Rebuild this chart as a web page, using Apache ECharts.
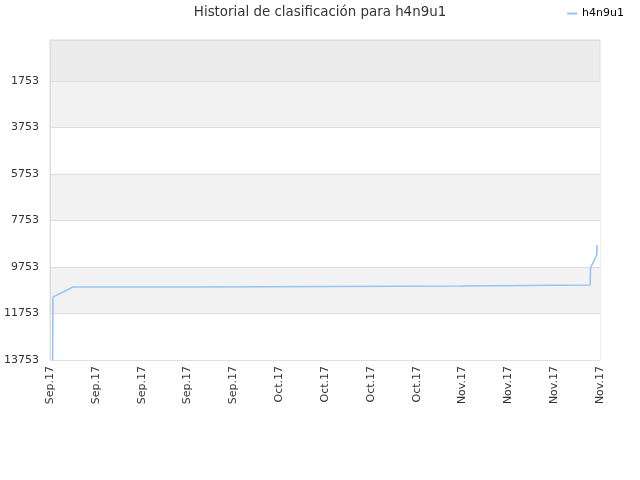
<!DOCTYPE html>
<html>
<head>
<meta charset="utf-8">
<script src="https://cdn.jsdelivr.net/npm/echarts@6/dist/echarts.min.js"></script>
<style>
  html, body { margin: 0; padding: 0; background: #fff; }
  #chart { width: 640px; height: 480px; }
</style>
</head>
<body>
<div id="chart"></div>
<script>
// days counted from 1 Sep 2017, rank at that moment
var days  = [0.4, 0.45, 3.5, 23.3, 23.35, 62.7, 62.75, 82.5, 82.55, 83.5, 83.55];
var ranks = [13753, 11050, 10615, 10615, 10572, 10572, 10529, 10529, 9799, 9240, 8810];
var yTicks = [1753, 3753, 5753, 7753, 9753, 11753, 13753];
var months = ['Jan', 'Feb', 'Mar', 'Apr', 'May', 'Jun', 'Jul', 'Aug', 'Sep', 'Oct', 'Nov', 'Dec'];
var startDate = new Date(2017, 8, 1);

var points = days.map(function (d, i) { return [d, ranks[i]]; });

function dayLabel(v) {
  var d = new Date(startDate.getTime() + v * 86400000);
  return months[d.getMonth()] + '.' + String(d.getFullYear()).slice(2);
}

var chart = echarts.init(document.getElementById('chart'));
var font = 'DejaVu Sans';

var option = {
  animation: false,
  title: {
    text: 'Historial de clasificación para h4n9u1',
    left: 'center',
    top: 1,
    textStyle: { fontFamily: font, fontSize: 13.4, fontWeight: 'normal', color: '#333' }
  },
  legend: {
    right: 11,
    top: 3,
    icon: 'rect',
    itemWidth: 10,
    itemHeight: 2,
    itemGap: 8,
    textStyle: { fontFamily: font, fontSize: 11, color: '#000' },
    data: ['h4n9u1']
  },
  grid: {
    left: 50, right: 40, top: 40, bottom: 120,
    containLabel: false,
    outerBoundsMode: 'none',
    show: true,
    backgroundColor: '#ececec',
    borderColor: '#dddddd',
    borderWidth: 1
  },
  xAxis: {
    type: 'value',
    min: 0,
    max: 84,
    interval: 7,
    axisLine: { lineStyle: { color: '#dddddd' } },
    axisTick: { show: false },
    splitLine: { show: false },
    axisLabel: {
      rotate: 90,
      margin: 6,
      fontFamily: font,
      fontSize: 11,
      color: '#333',
      formatter: dayLabel
    }
  },
  yAxis: {
    type: 'value',
    inverse: true,
    min: 0,
    max: 13753,
    axisLine: { show: true, lineStyle: { color: '#dddddd' } },
    axisTick: { show: false, customValues: yTicks },
    axisLabel: {
      customValues: yTicks,
      margin: 11,
      fontFamily: font,
      fontSize: 11,
      color: '#333',
      formatter: function (v) { return String(v); }
    },
    splitLine: { show: true, lineStyle: { color: '#dedede' } },
    splitArea: { show: true, areaStyle: { color: ['#f2f2f2', '#ffffff'] } }
  },
  series: [{
    name: 'h4n9u1',
    type: 'line',
    data: points,
    showSymbol: false,
    symbol: 'none',
    lineStyle: { color: '#97c4f2', width: 1.6 },
    itemStyle: { color: '#97c4f2' }
  }]
};

chart.setOption(option);
</script>
</body>
</html>
